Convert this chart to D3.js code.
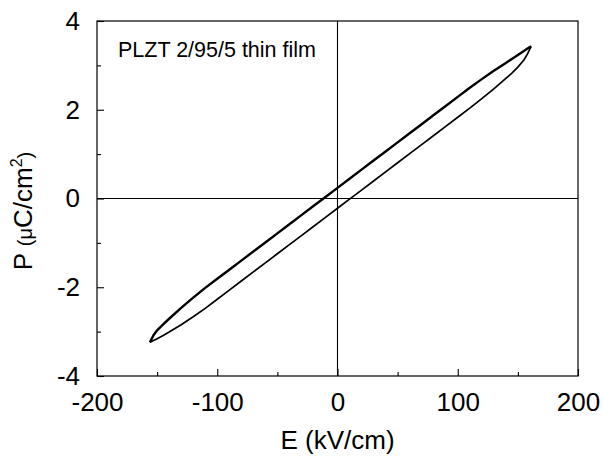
<!DOCTYPE html>
<html>
<head>
<meta charset="utf-8">
<script src="https://cdn.jsdelivr.net/npm/d3@7/dist/d3.min.js"></script>
<style>
  html, body { margin: 0; padding: 0; background: #fff; }
  svg { display: block; font-family: "Liberation Sans", Arial, sans-serif; }
</style>
</head>
<body>
<svg id="chart" width="603" height="457"></svg>
<script>
// P–E hysteresis loop of a PLZT 2/95/5 thin film
// Upper branch: field swept from +Emax down to -Emax
const upperE = [161, 158, 155, 150, 145, 140, 130, 120, 110, 100, 90, 80, 70, 60, 50, 40, 30, 20, 10, 0,
                -10, -20, -30, -40, -50, -60, -70, -80, -90, -100, -110, -120, -130, -140, -145, -150, -153, -156];
const upperP = [3.43, 3.38, 3.325, 3.235, 3.145, 3.055, 2.88, 2.69, 2.495, 2.29, 2.085, 1.88, 1.675, 1.47, 1.265, 1.06, 0.855, 0.65, 0.445, 0.24,
                0.035, -0.17, -0.375, -0.58, -0.785, -0.99, -1.195, -1.40, -1.605, -1.81, -2.015, -2.235, -2.465, -2.71, -2.835, -2.97, -3.08, -3.24];
// Lower branch: field swept from -Emax back up to +Emax
const lowerE = [-156, -153, -150, -145, -140, -130, -120, -110, -100, -90, -80, -70, -60, -50, -40, -30, -20, -10, 0,
                10, 20, 30, 40, 50, 60, 70, 80, 90, 100, 110, 120, 130, 140, 145, 150, 155, 158, 161];
const lowerP = [-3.24, -3.20, -3.16, -3.085, -3.01, -2.845, -2.665, -2.475, -2.27, -2.065, -1.86, -1.655, -1.45, -1.245, -1.04, -0.835, -0.63, -0.425, -0.22,
                -0.015, 0.19, 0.395, 0.60, 0.805, 1.01, 1.215, 1.42, 1.625, 1.83, 2.035, 2.25, 2.47, 2.705, 2.825, 2.96, 3.12, 3.26, 3.43];

const xMajorTicks = [-200, -100, 0, 100, 200];
const xMinorTicks = [-150, -50, 50, 150];
const yMajorTicks = [-4, -2, 0, 2, 4];
const yMinorTicks = [-3, -1, 1, 3];
const xDomain = [-200, 200];
const yDomain = [-4, 4];
const annotation = "PLZT 2/95/5 thin film";

const svg = d3.select("#chart");
const plot = { left: 97, right: 578, top: 21, bottom: 376 };

const x = d3.scaleLinear().domain(xDomain).range([plot.left, plot.right]);
const y = d3.scaleLinear().domain(yDomain).range([plot.bottom, plot.top]);

const font = '"Liberation Sans", Arial, sans-serif';
const fmt = d => d3.format("d")(d).replace("\u2212", "-");

// zero cross-hair lines
svg.append("line").attr("x1", x(0)).attr("x2", x(0)).attr("y1", plot.top).attr("y2", plot.bottom)
  .attr("stroke", "#000").attr("stroke-width", 1.1);
svg.append("line").attr("x1", plot.left).attr("x2", plot.right).attr("y1", y(0)).attr("y2", y(0))
  .attr("stroke", "#000").attr("stroke-width", 1.1);

// bottom axis: inward ticks
const xAxis = d3.axisBottom(x).tickValues(xMajorTicks).tickSize(-7).tickPadding(17).tickFormat(fmt);
svg.append("g").attr("transform", `translate(0,${plot.bottom})`).call(xAxis);
const xMinor = d3.axisBottom(x).tickValues(xMinorTicks).tickSize(-4).tickFormat("");
svg.append("g").attr("transform", `translate(0,${plot.bottom})`).call(xMinor);

// left axis: inward ticks
const yAxis = d3.axisLeft(y).tickValues(yMajorTicks).tickSize(-7).tickPadding(17).tickFormat(fmt);
svg.append("g").attr("transform", `translate(${plot.left},0)`).call(yAxis);
const yMinor = d3.axisLeft(y).tickValues(yMinorTicks).tickSize(-4).tickFormat("");
svg.append("g").attr("transform", `translate(${plot.left},0)`).call(yMinor);

svg.selectAll(".domain").remove();
svg.selectAll(".tick line").attr("stroke", "#000").attr("stroke-width", 1.1);
svg.selectAll(".tick text").attr("fill", "#000").attr("font-family", font).attr("font-size", 26);

// frame
svg.append("rect").attr("x", plot.left).attr("y", plot.top)
  .attr("width", plot.right - plot.left).attr("height", plot.bottom - plot.top)
  .attr("fill", "none").attr("stroke", "#000").attr("stroke-width", 1.2);

// hysteresis loop
const line = d3.line().x(d => x(d[0])).y(d => y(d[1]));
svg.append("path").datum(d3.zip(upperE, upperP)).attr("d", line)
  .attr("fill", "none").attr("stroke", "#000").attr("stroke-width", 2.4).attr("stroke-linejoin", "round");
svg.append("path").datum(d3.zip(lowerE, lowerP)).attr("d", line)
  .attr("fill", "none").attr("stroke", "#000").attr("stroke-width", 1.7).attr("stroke-linejoin", "round");

// sample label
svg.append("text").attr("x", 118).attr("y", 57).attr("font-family", font).attr("font-size", 21.5)
  .attr("fill", "#000").text(annotation);

// axis titles
svg.append("text").attr("x", (plot.left + plot.right) / 2).attr("y", 449).attr("text-anchor", "middle")
  .attr("font-family", font).attr("font-size", 26).attr("fill", "#000").text("E (kV/cm)");

const yt = svg.append("text").attr("transform", "translate(32,211) rotate(-90)")
  .attr("text-anchor", "middle").attr("font-family", font).attr("fill", "#000").attr("font-size", 26);
yt.append("tspan").text("P ");
yt.append("tspan").attr("font-size", 20).text("(μ");
yt.append("tspan").text("C/cm");
yt.append("tspan").attr("font-size", 16).attr("dy", -10).text("2");
yt.append("tspan").attr("font-size", 20).attr("dy", 10).text(")");
</script>
</body>
</html>
